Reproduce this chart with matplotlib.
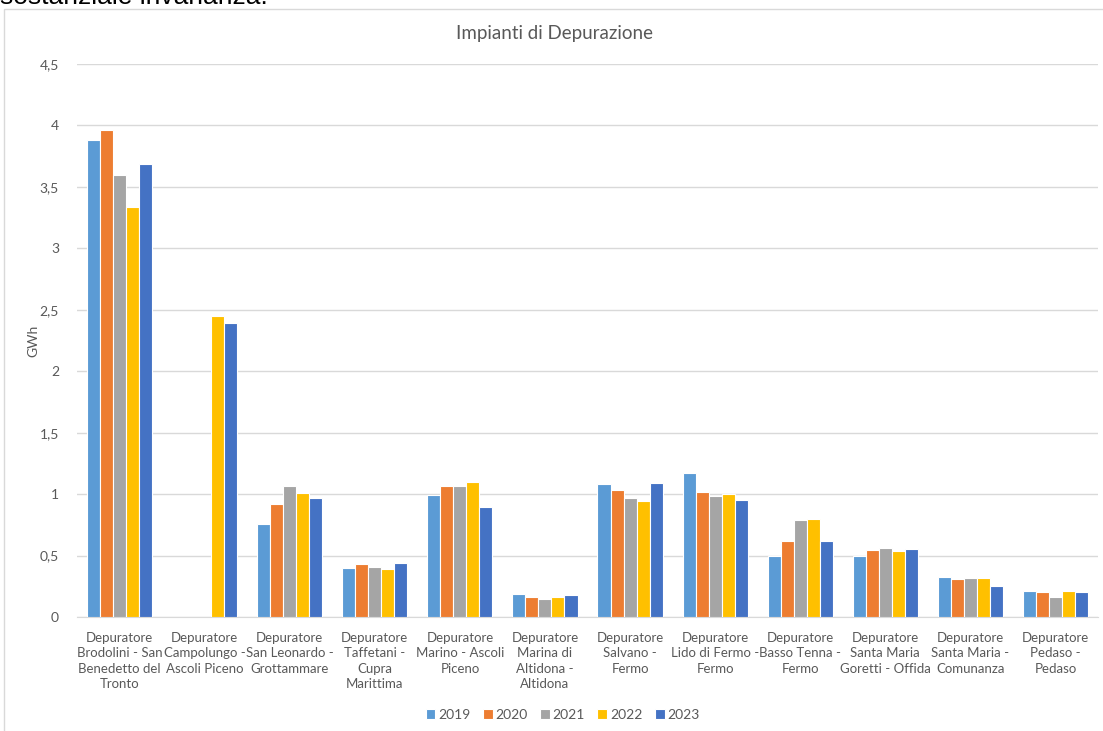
import numpy as np
import matplotlib.pyplot as plt
from matplotlib.patches import Rectangle
from matplotlib.ticker import FuncFormatter

plt.rcParams['font.family'] = ['Lato', 'DejaVu Sans']

impianti = [
    "Depuratore\nBrodolini - San\nBenedetto del\nTronto",
    "Depuratore\nCampolungo -\nAscoli Piceno",
    "Depuratore\nSan Leonardo -\nGrottammare",
    "Depuratore\nTaffetani -\nCupra\nMarittima",
    "Depuratore\nMarino - Ascoli\nPiceno",
    "Depuratore\nMarina di\nAltidona -\nAltidona",
    "Depuratore\nSalvano -\nFermo",
    "Depuratore\nLido di Fermo -\nFermo",
    "Depuratore\nBasso Tenna -\nFermo",
    "Depuratore\nSanta Maria\nGoretti - Offida",
    "Depuratore\nSanta Maria -\nComunanza",
    "Depuratore\nPedaso -\nPedaso",
]
anni = ["2019", "2020", "2021", "2022", "2023"]

# consumi in GWh per anno
gwh_2019 = [3.88, 0, 0.76, 0.40, 0.99, 0.185, 1.08, 1.175, 0.50, 0.50, 0.325, 0.215]
gwh_2020 = [3.965, 0, 0.92, 0.43, 1.07, 0.16, 1.035, 1.02, 0.615, 0.545, 0.31, 0.205]
gwh_2021 = [3.60, 0, 1.065, 0.41, 1.07, 0.15, 0.97, 0.985, 0.79, 0.56, 0.315, 0.165]
gwh_2022 = [3.34, 2.45, 1.01, 0.39, 1.10, 0.165, 0.94, 1.0, 0.795, 0.54, 0.315, 0.21]
gwh_2023 = [3.69, 2.39, 0.97, 0.44, 0.895, 0.18, 1.09, 0.955, 0.62, 0.555, 0.255, 0.205]
serie = [gwh_2019, gwh_2020, gwh_2021, gwh_2022, gwh_2023]
colori = ["#5B9BD5", "#ED7D31", "#A5A5A5", "#FFC000", "#4472C4"]

W, H = 1103, 731
fig = plt.figure(figsize=(W / 100, H / 100), dpi=100)

# riga di testo del documento sopra il grafico e cornice del grafico
fig.text(0, 1 - 3.5 / H, "sostanziale invarianza.", fontsize=19,
         family="Liberation Sans", color="black", va="baseline", ha="left")
fig.patches.append(Rectangle((4 / W, -0.05), 1.1, 1 - 9 / H + 0.05,
                             transform=fig.transFigure, fill=False,
                             edgecolor="#D9D9D9", linewidth=1))

ax = fig.add_axes([77 / W, (H - 617) / H, (1098 - 77) / W, (617 - 64) / H])

x = np.arange(len(impianti))
passo = 0.153
for i, (vals, col, anno) in enumerate(zip(serie, colori, anni)):
    ax.bar(x + (i - 2) * passo, vals, width=passo, color=col,
           edgecolor="white", linewidth=0.8, label=anno, zorder=3)

ax.set_xlim(-0.5, len(impianti) - 0.5)
ax.set_ylim(0, 4.5)
ax.set_yticks(np.arange(0, 4.51, 0.5))
ax.yaxis.set_major_formatter(FuncFormatter(lambda v, p: f"{v:g}".replace(".", ",")))
ax.grid(axis="y", color="#D9D9D9", linewidth=1, zorder=0)
for s in ["top", "right", "left"]:
    ax.spines[s].set_visible(False)
ax.spines["bottom"].set_color("#D9D9D9")
ax.tick_params(axis="y", length=0, colors="#595959", labelsize=10, pad=13)
ax.tick_params(axis="x", length=0, colors="#595959", labelsize=9.5, pad=11)
ax.set_xticks(x)
ax.set_xticklabels(impianti, va="top", linespacing=1.32)
ax.set_ylabel("GWh", color="#595959", fontsize=10, labelpad=0)

fig.text(0.503, 1 - 33 / H, "Impianti di Depurazione", fontsize=13.5,
         color="#595959", ha="center", va="center")

fig.legend(loc="center", bbox_to_anchor=(0.51, 1 - 715 / H), ncol=5,
           frameon=False, fontsize=10, handlelength=0.7, handleheight=0.7,
           handletextpad=0.2, columnspacing=0.9, labelcolor="#595959")

fig.savefig("out.png", dpi=100)
